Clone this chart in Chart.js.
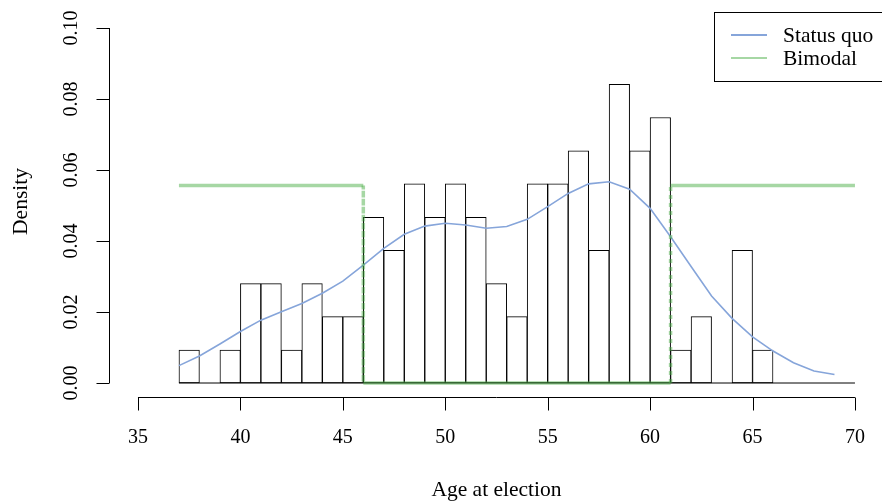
<!DOCTYPE html>
<html>
<head>
<meta charset="utf-8">
<script src="https://cdn.jsdelivr.net/npm/chart.js@4"></script>
<style>
  body { margin: 0; background: #fff; overflow: hidden; }
  #wrap { width: 882px; height: 503px; }
</style>
</head>
<body>
<div id="wrap"><canvas id="ageChart" width="882" height="503"></canvas></div>
<script>
// Histogram bins (left edges, width 1) and densities
const binStarts = [37, 38, 39, 40, 41, 42, 43, 44, 45, 46, 47, 48, 49, 50, 51, 52, 53,
                   54, 55, 56, 57, 58, 59, 60, 61, 62, 63, 64, 65, 66, 67, 68, 69];
const binDensity = [0.0093, 0, 0.0093, 0.028, 0.028, 0.0093, 0.028, 0.0187, 0.0187,
                    0.0467, 0.0374, 0.0561, 0.0467, 0.0561, 0.0467, 0.028, 0.0187,
                    0.0561, 0.0561, 0.0654, 0.0374, 0.0841, 0.0654, 0.0748,
                    0.0093, 0.0187, 0, 0.0374, 0.0093, 0, 0, 0, 0];

// "Status quo" density curve
const sqAges = [37, 38, 39, 40, 41, 42, 43, 44, 45, 46, 47, 48, 49, 50, 51, 52, 53,
                54, 55, 56, 57, 58, 59, 60, 61, 62, 63, 64, 65, 66, 67, 68, 69];
const sqDensity = [0.0049, 0.0076, 0.011, 0.0145, 0.0177, 0.0201, 0.0224, 0.0253, 0.0287,
                   0.0332, 0.0379, 0.0419, 0.0442, 0.045, 0.0445, 0.0436, 0.0441,
                   0.0461, 0.0497, 0.0534, 0.0561, 0.0567, 0.0546, 0.0492,
                   0.0412, 0.0328, 0.0245, 0.0182, 0.013, 0.009, 0.0057, 0.0034, 0.0024];

// "Bimodal" step density
const bimodalAges = [37, 46, 46, 61, 61, 70];
const bimodalDensity = [0.0556, 0.0556, 0, 0, 0.0556, 0.0556];

// Axis ticks
const xTicks = [35, 40, 45, 50, 55, 60, 65, 70];
const yTicks = [0, 0.02, 0.04, 0.06, 0.08, 0.10];
const yTickLabels = ['0.00', '0.02', '0.04', '0.06', '0.08', '0.10'];

const FONT = '20px "Liberation Serif", "DejaVu Serif", serif';
const FONT_BIG = '21.5px "Liberation Serif", "DejaVu Serif", serif';
const BLUE = '#86a5da';
const GREEN = 'rgba(77, 175, 74, 0.5)';

const histPoints = binStarts.map((b, i) => ({ x: b + 0.5, y: binDensity[i] }));
const sqPoints = sqAges.map((a, i) => ({ x: a, y: sqDensity[i] }));
const bimodalPoints = bimodalAges.map((a, i) => ({ x: a, y: bimodalDensity[i] }));
const firstEdge = binStarts[0];
const lastEdge = binStarts[binStarts.length - 1] + 1;

// R-style axes, labels and legend
const rAxes = {
    id: 'rAxes',
    afterDraw(chart) {
        const ctx = chart.ctx;
        const xs = chart.scales.x;
        const ys = chart.scales.y;
        const area = chart.chartArea;
        ctx.save();
        ctx.strokeStyle = '#000';
        ctx.lineWidth = 1;
        ctx.fillStyle = '#000';
        ctx.font = FONT;

        // x axis
        const xb = Math.round(area.bottom) + 0.5;
        ctx.beginPath();
        ctx.moveTo(xs.getPixelForValue(xTicks[0]), xb);
        ctx.lineTo(xs.getPixelForValue(xTicks[xTicks.length - 1]), xb);
        xTicks.forEach(t => {
            const px = Math.round(xs.getPixelForValue(t)) + 0.5;
            ctx.moveTo(px, xb);
            ctx.lineTo(px, xb + 13);
        });
        ctx.stroke();
        ctx.textAlign = 'center';
        ctx.textBaseline = 'middle';
        xTicks.forEach(t => ctx.fillText(String(t), xs.getPixelForValue(t), xb + 40));
        ctx.font = FONT_BIG;
        ctx.fillText('Age at election', xs.getPixelForValue(52.5), xb + 93);

        // y axis
        ctx.font = FONT;
        const yl = Math.round(area.left) + 0.5;
        ctx.beginPath();
        ctx.moveTo(yl, ys.getPixelForValue(yTicks[0]));
        ctx.lineTo(yl, ys.getPixelForValue(yTicks[yTicks.length - 1]));
        yTicks.forEach(t => {
            const py = Math.round(ys.getPixelForValue(t)) + 0.5;
            ctx.moveTo(yl, py);
            ctx.lineTo(yl - 13, py);
        });
        ctx.stroke();
        yTicks.forEach((t, i) => {
            ctx.save();
            ctx.translate(yl - 38, ys.getPixelForValue(t));
            ctx.rotate(-Math.PI / 2);
            ctx.fillText(yTickLabels[i], 0, 0);
            ctx.restore();
        });
        ctx.save();
        ctx.font = FONT_BIG;
        ctx.translate(21, (area.top + area.bottom) / 2 - 4);
        ctx.rotate(-Math.PI / 2);
        ctx.fillText('Density', 0, 0);
        ctx.restore();

        // legend box
        ctx.strokeRect(714.5, 12.5, 190, 69);
        ctx.lineWidth = 2;
        ctx.strokeStyle = BLUE;
        ctx.beginPath();
        ctx.moveTo(731, 35);
        ctx.lineTo(767, 35);
        ctx.stroke();
        ctx.strokeStyle = GREEN;
        ctx.beginPath();
        ctx.moveTo(731, 58);
        ctx.lineTo(767, 58);
        ctx.stroke();
        ctx.font = FONT_BIG;
        ctx.textAlign = 'left';
        ctx.fillText('Status quo', 783, 36);
        ctx.fillText('Bimodal', 783, 59);
        ctx.restore();
    }
};

new Chart(document.getElementById('ageChart'), {
    data: {
        datasets: [
            {
                type: 'bar',
                label: 'Histogram',
                data: histPoints,
                backgroundColor: '#fff',
                borderColor: '#000',
                borderWidth: 1,
                barPercentage: 1,
                categoryPercentage: 1,
                borderSkipped: false,
                order: 3
            },
            {
                type: 'line',
                label: 'Baseline',
                data: [{ x: firstEdge, y: 0 }, { x: lastEdge, y: 0 }],
                borderColor: '#000',
                borderWidth: 1,
                pointRadius: 0,
                order: 2
            },
            {
                type: 'line',
                label: 'Status quo',
                data: sqPoints,
                borderColor: BLUE,
                borderWidth: 1.6,
                pointRadius: 0,
                tension: 0,
                order: 1
            },
            {
                type: 'line',
                label: 'Bimodal',
                data: bimodalPoints,
                borderColor: GREEN,
                borderWidth: 3.5,
                pointRadius: 0,
                tension: 0,
                segment: {
                    borderDash: c => c.p0.parsed.x === c.p1.parsed.x ? [4, 4] : undefined
                },
                order: 0
            }
        ]
    },
    options: {
        responsive: false,
        animation: false,
        layout: { padding: { left: 109.3, right: 0, top: 13.8, bottom: 503 - 397.2 } },
        plugins: {
            legend: { display: false },
            tooltip: { enabled: false }
        },
        scales: {
            x: { type: 'linear', display: false, offset: false, min: 33.6, max: 71.32 },
            y: { type: 'linear', display: false, min: -0.004, max: 0.104 }
        }
    },
    plugins: [rAxes]
});
</script>
</body>
</html>
